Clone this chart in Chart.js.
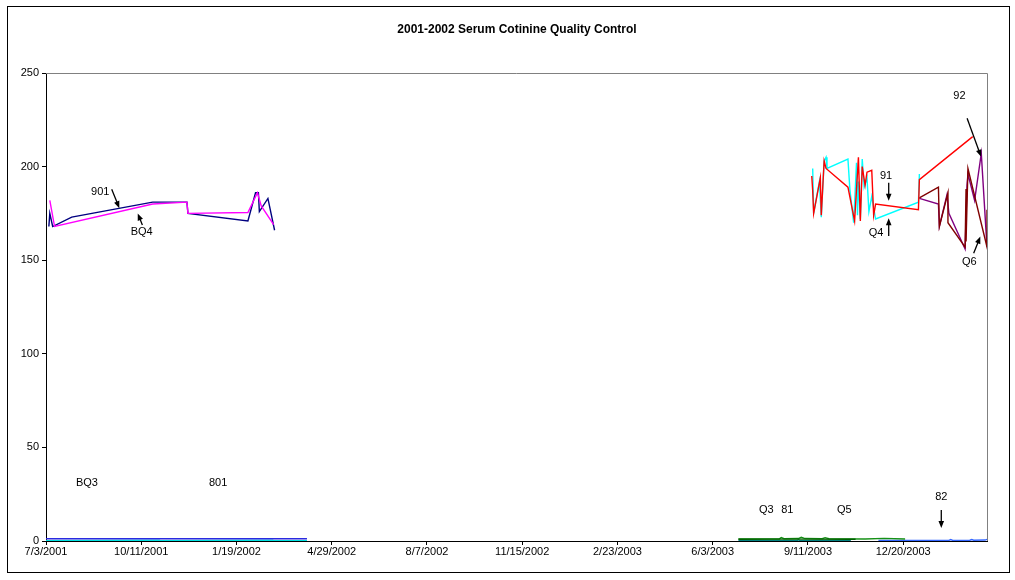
<!DOCTYPE html>
<html>
<head>
<meta charset="utf-8">
<script src="https://cdn.jsdelivr.net/npm/chart.js@4.4.1/dist/chart.umd.min.js"></script>
<style>
  html, body { margin: 0; padding: 0; background: #fff; }
  canvas { display: block; }
</style>
</head>
<body>
<canvas id="qc" width="1015" height="580"></canvas>
<script>
// x values are days after 7/3/2001
const START = Date.UTC(2001, 6, 3)
const X_MAX = 988

const days901 = [3, 4, 7, 27, 112, 148, 149, 212, 220, 223, 224, 233, 240]
const vals901 = [168, 175, 168, 173, 181, 181, 175, 171, 186, 186, 176, 183, 166]

const daysBQ4 = [4, 9, 112, 148, 149, 212, 222, 226, 239]
const valsBQ4 = [182, 168, 180, 181, 175, 175.5, 186, 179, 169]

const days801 = [0, 60, 120, 180, 238, 274]
const vals801 = [1.2, 1.2, 1.2, 1.2, 1.2, 1.2]

const daysBQ3 = [0, 119, 120, 238, 239, 274]
const valsBQ3 = [0.2, 0.4, 0.2, 0.4, 0.2, 0.2]

const days91 = [804, 805, 806, 813, 814, 817, 819, 842, 849, 853, 855, 857, 860, 862, 867, 869, 871, 916, 917, 973]
const vals91 = [195, 187, 175, 194, 174, 203, 199, 189, 171, 205, 171, 200, 190, 197, 198, 174, 180, 177, 193, 216]

const daysQ4 = [805, 806, 812, 814, 817, 819, 820, 842, 844, 848, 851, 852, 853, 855, 857, 859, 862, 864, 867, 871, 916, 917]
const valsQ4 = [199, 175, 192, 173, 203, 205, 199, 204, 188, 170, 202, 174, 192, 172, 204, 189, 194, 176, 184, 172, 181, 196]

const daysQ6 = [916, 937, 938, 947, 947, 965, 966, 966, 968, 988, 988]
const valsQ6 = [183, 189, 168, 186, 170, 157, 188, 160, 199, 157, 177]

const days92 = [917, 937, 938, 946, 948, 965, 967, 968, 975, 982, 988]
const vals92 = [183, 180, 168, 185, 175, 156, 190, 196, 182, 207, 157]

const days81 = [727, 770, 772, 775, 790, 793, 797, 815, 818, 822, 860, 880, 902]
const vals81 = [1.1, 1.1, 1.8, 1.2, 1.3, 2.0, 1.3, 1.2, 1.8, 1.2, 1.1, 1.4, 1.1]

const daysQ3 = [727, 788, 790, 792, 845]
const valsQ3 = [0.1, 0.1, 0.6, 0.1, 0.2]

const daysQ5 = [727, 760, 800, 845, 850]
const valsQ5 = [0.9, 1.0, 1.0, 0.9, 0.9]

const days82 = [874, 920, 948, 950, 952, 970, 972, 974, 986, 988]
const vals82 = [0.3, 0.3, 0.3, 0.8, 0.3, 0.4, 0.8, 0.4, 0.5, 0.9]

// text labels placed in data space: [text, day, value]
const labels = [
  ['901', 57, 186.6], ['BQ4', 100.5, 164.9],
  ['92', 959, 237.7], ['91', 882, 195.1], ['Q4', 871.5, 164.4], ['Q6', 969.5, 149.2],
  ['BQ3', 43, 31], ['801', 180.7, 31],
  ['Q3', 756.3, 16.6], ['81', 778.4, 16.6], ['Q5', 838.2, 16.6], ['82', 940, 23.5]
]
// arrows: from [day, value] to [day, value], head at the end
const arrows = [
  [69, 187.9, 77, 177.8], [101.2, 168.8, 96.3, 175],
  [967.1, 225.8, 981.8, 205.3], [884.8, 191.4, 884.8, 181.8],
  [884.8, 162.9, 884.8, 172.4], [974, 153.7, 981, 162.6],
  [940, 16.6, 940, 6.9]
]

const FONT = "'Liberation Sans', Arial, sans-serif"

const toPts = (xs, ys) => xs.map((x, i) => ({ x, y: ys[i] }))

const series = (label, xs, ys, color) => ({
  label,
  data: toPts(xs, ys),
  borderColor: color,
  backgroundColor: color,
  borderWidth: 1.4,
  pointRadius: 0,
  showLine: true,
  tension: 0
})

const fmtDay = d => {
  const dt = new Date(START + d * 86400000)
  return (dt.getUTCMonth() + 1) + '/' + dt.getUTCDate() + '/' + dt.getUTCFullYear()
}

const decor = {
  id: 'decor',
  afterDraw(chart) {
    const { ctx, chartArea: a, scales: { x, y } } = chart
    ctx.save()
    // outer frame
    ctx.strokeStyle = '#000'
    ctx.lineWidth = 1
    ctx.strokeRect(7.5, 6.5, 1002, 566)
    // plot border top / right
    ctx.strokeStyle = '#808080'
    ctx.beginPath()
    ctx.moveTo(a.left, a.top + 0.5)
    ctx.lineTo(a.right + 0.5, a.top + 0.5)
    ctx.lineTo(a.right + 0.5, a.bottom)
    ctx.stroke()
    // title
    ctx.fillStyle = '#000'
    ctx.font = 'bold 12px ' + FONT
    ctx.textAlign = 'center'
    ctx.textBaseline = 'middle'
    ctx.fillText('2001-2002 Serum Cotinine Quality Control', 517, 30)
    // labels
    ctx.font = '11px ' + FONT
    labels.forEach(([t, d, v]) => {
      ctx.fillText(t, x.getPixelForValue(d), y.getPixelForValue(v))
    })
    // arrows
    ctx.strokeStyle = '#000'
    ctx.lineWidth = 1.3
    arrows.forEach(([d0, v0, d1, v1]) => {
      const x0 = x.getPixelForValue(d0), y0 = y.getPixelForValue(v0)
      const x1 = x.getPixelForValue(d1), y1 = y.getPixelForValue(v1)
      const ang = Math.atan2(y1 - y0, x1 - x0)
      ctx.beginPath()
      ctx.moveTo(x0, y0)
      ctx.lineTo(x1 - 5 * Math.cos(ang), y1 - 5 * Math.sin(ang))
      ctx.stroke()
      ctx.beginPath()
      ctx.moveTo(x1, y1)
      ctx.lineTo(x1 - 7 * Math.cos(ang) + 2.8 * Math.sin(ang), y1 - 7 * Math.sin(ang) - 2.8 * Math.cos(ang))
      ctx.lineTo(x1 - 7 * Math.cos(ang) - 2.8 * Math.sin(ang), y1 - 7 * Math.sin(ang) + 2.8 * Math.cos(ang))
      ctx.closePath()
      ctx.fill()
    })
    ctx.restore()
  }
}

new Chart(document.getElementById('qc'), {
  type: 'scatter',
  data: {
    datasets: [
      series('801', days801, vals801, '#2a2ae0'),
      series('BQ3', daysBQ3, valsBQ3, '#00e0e0'),
      series('BQ4', daysBQ4, valsBQ4, '#ff00ff'),
      series('901', days901, vals901, '#000080'),
      series('Q5', daysQ5, valsQ5, '#006000'),
      series('81', days81, vals81, '#159015'),
      series('Q3', daysQ3, valsQ3, '#008080'),
      series('82', days82, vals82, '#3366ff'),
      series('91', days91, vals91, '#ff0000'),
      series('Q4', daysQ4, valsQ4, '#00ffff'),
      series('Q6', daysQ6, valsQ6, '#800000'),
      series('92', days92, vals92, '#800080')
    ]
  },
  options: {
    responsive: false,
    animation: false,
    devicePixelRatio: 1,
    layout: { padding: { top: 73, right: 28, left: 0, bottom: 0 } },
    plugins: { legend: { display: false }, tooltip: { enabled: false } },
    scales: {
      x: {
        type: 'linear',
        min: 0,
        max: X_MAX,
        afterFit: s => { s.height = 39 },
        afterBuildTicks: s => { s.ticks = s.ticks.filter(t => t.value % 100 === 0) },
        border: { color: '#000', width: 1 },
        grid: { drawOnChartArea: false, color: '#000', tickLength: 4 },
        ticks: {
          stepSize: 100,
          maxRotation: 0,
          autoSkip: false,
          padding: 0,
          color: '#000',
          font: { family: FONT, size: 11 },
          callback: v => fmtDay(v)
        }
      },
      y: {
        min: 0,
        max: 250,
        afterFit: s => { s.width = 46 },
        border: { color: '#000', width: 1 },
        grid: { drawOnChartArea: false, color: '#000', tickLength: 4 },
        ticks: {
          stepSize: 50,
          padding: 3,
          color: '#000',
          font: { family: FONT, size: 11 }
        }
      }
    }
  },
  plugins: [decor]
})
</script>
</body>
</html>
